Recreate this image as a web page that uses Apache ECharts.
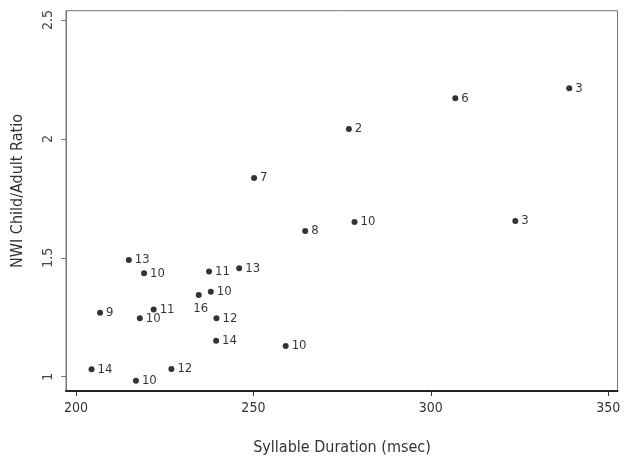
<!DOCTYPE html>
<html>
<head>
<meta charset="utf-8">
<script src="https://cdn.jsdelivr.net/npm/echarts@6/dist/echarts.min.js"></script>
<style>
html, body { margin: 0; padding: 0; background: #fff; }
#chart { width: 629px; height: 459px; }
</style>
</head>
<body>
<div id="chart"></div>
<script>
// syllable duration (msec), NWI child/adult ratio, number of children
var duration = [339.0, 306.9, 276.9, 250.2, 278.5, 323.8, 264.6,
                214.9, 219.2, 237.5, 246.0, 238.0, 234.6, 206.8, 221.9,
                218.0, 239.6, 239.5, 259.1, 204.4, 226.9, 216.9];
var ratio = [2.213, 2.171, 2.042, 1.836, 1.651, 1.655, 1.613,
             1.491, 1.435, 1.442, 1.456, 1.357, 1.344, 1.269, 1.283,
             1.246, 1.246, 1.151, 1.129, 1.031, 1.032, 0.983];
var counts = ['3', '6', '2', '7', '10', '3', '8',
              '13', '10', '11', '13', '10', '16', '9', '11',
              '10', '12', '14', '10', '14', '12', '10'];
var xTicks = [200, 250, 300, 350];
var yTicks = [1, 1.5, 2, 2.5];

var narrow = '"Liberation Sans Narrow", "DejaVu Sans Condensed", Arial';
var myChart = echarts.init(document.getElementById('chart'));

var points = [];
duration.forEach(function (d, i) {
    var item = { value: [d, ratio[i]], name: counts[i] };
    if (counts[i] == '16') {
        item.label = { position: 'bottom', distance: 4, offset: [2, 0] };
    }
    points.push(item);
});

var option = {
    animation: false,
    grid: {
        left: 66,
        right: 11.5,
        top: 10.7,
        bottom: 68,
        show: true,
        borderColor: '#777',
        borderWidth: 1
    },
    xAxis: {
        type: 'value',
        min: 197.2,
        max: 352.6,
        splitLine: { show: false },
        axisLine: { onZero: false, lineStyle: { color: '#222', width: 2 } },
        axisTick: { customValues: xTicks, length: 5, lineStyle: { color: '#333' } },
        axisLabel: {
            customValues: xTicks,
            margin: 10,
            color: '#333',
            fontSize: 14,
            fontFamily: narrow
        }
    },
    yAxis: {
        type: 'value',
        min: 0.94,
        max: 2.539,
        splitLine: { show: false },
        axisLine: { onZero: false, lineStyle: { color: '#777', width: 1 } },
        axisTick: { customValues: yTicks, length: 5, lineStyle: { color: '#777' } },
        axisLabel: {
            customValues: yTicks,
            rotate: 90,
            margin: 11,
            color: '#444',
            fontSize: 14,
            fontFamily: narrow,
            formatter: function (v) { return String(v); }
        }
    },
    graphic: [
        {
            type: 'text',
            x: 342,
            y: 448,
            style: {
                text: 'Syllable Duration (msec)',
                align: 'center',
                verticalAlign: 'middle',
                fill: '#333',
                font: '16px ' + narrow
            }
        },
        {
            type: 'text',
            x: 18,
            y: 191,
            rotation: Math.PI / 2,
            style: {
                text: 'NWI Child/Adult Ratio',
                align: 'center',
                verticalAlign: 'middle',
                fill: '#333',
                font: '16px ' + narrow
            }
        }
    ],
    series: [
        {
            type: 'scatter',
            symbol: 'circle',
            symbolSize: 6,
            itemStyle: { color: '#000' },
            label: {
                show: true,
                position: 'right',
                distance: 3,
                formatter: '{b}',
                color: '#000',
                fontSize: 13,
                fontFamily: narrow
            },
            data: points
        }
    ]
};

myChart.setOption(option);
</script>
</body>
</html>
